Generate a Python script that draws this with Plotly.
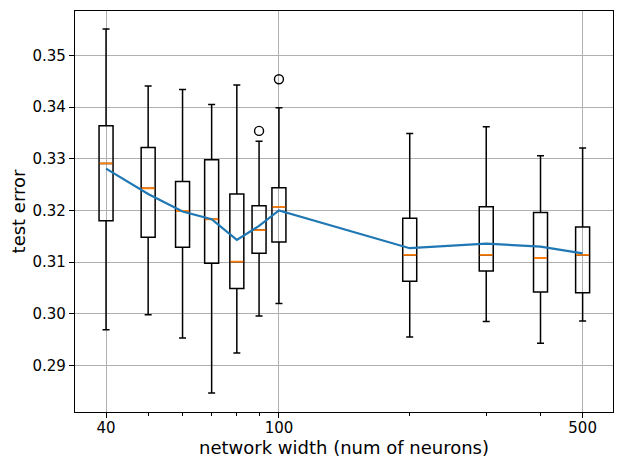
import numpy as np
import plotly.graph_objects as go

# test error per network width
widths = [40, 50, 60, 70, 80, 90, 100, 200, 300, 400, 500]
upper = [0.3551, 0.3441, 0.3434, 0.3405, 0.3443, 0.3334, 0.3399, 0.3349, 0.3362, 0.3306, 0.3321]
q3 = [0.3364, 0.3322, 0.3256, 0.3298, 0.3232, 0.3209, 0.3244, 0.3185, 0.3207, 0.3196, 0.3168]
median = [0.3291, 0.3243, 0.3199, 0.3183, 0.3101, 0.3162, 0.3207, 0.3114, 0.3114, 0.3108, 0.3114]
q1 = [0.3180, 0.3148, 0.3129, 0.3098, 0.3049, 0.3117, 0.3139, 0.3063, 0.3083, 0.3042, 0.3041]
lower = [0.2969, 0.2998, 0.2953, 0.2847, 0.2924, 0.2996, 0.3020, 0.2955, 0.2985, 0.2943, 0.2986]
mean = [0.3281, 0.3232, 0.3198, 0.3183, 0.3143, 0.3170, 0.3200, 0.3127, 0.3136, 0.3130, 0.3117]
outlier_x = [90, 100]
outlier_y = [0.3354, 0.3454]

major_ticks = [40, 100, 500]
minor_ticks = [50, 60, 70, 80, 90, 200, 300, 400]

FONT = 'DejaVu Sans'
BOX_W = 0.0322  # box width in decades

# plotly boxes don't size well on a log axis, so the x axis is log10(width)
# with the original widths as tick labels
pos = np.log10(widths)

fig = go.Figure()

fig.add_trace(go.Box(
    x=pos, q1=q1, median=median, q3=q3,
    lowerfence=lower, upperfence=upper,
    width=BOX_W, whiskerwidth=0.5, boxpoints=False,
    line=dict(color='black', width=1.5), fillcolor='rgba(0,0,0,0)',
    showlegend=False, hoverinfo='skip'))
# orange median drawn over the black one
fig.add_trace(go.Box(
    x=pos, q1=median, median=median, q3=median,
    lowerfence=median, upperfence=median,
    width=BOX_W * 0.93, whiskerwidth=0, boxpoints=False,
    line=dict(color='#ff7f0e', width=1.8), fillcolor='rgba(0,0,0,0)',
    showlegend=False, hoverinfo='skip'))

fig.add_trace(go.Scatter(
    x=np.log10(outlier_x), y=outlier_y, mode='markers',
    marker=dict(symbol='circle-open', size=9, color='black', line=dict(width=1.4)),
    showlegend=False))

fig.add_trace(go.Scatter(
    x=pos, y=mean, mode='lines',
    line=dict(color='#1f77b4', width=2.2), showlegend=False))

# the page puts the figure 8px in from the top-left corner
fig.update_layout(
    width=624, height=468,
    margin=dict(l=67, r=19, t=3, b=64),
    plot_bgcolor='white', paper_bgcolor='white',
    boxmode='overlay',
    font=dict(family=FONT, size=15, color='black'),
    xaxis=dict(
        range=[1.5306, 2.7689], automargin=False,
        tickvals=np.log10(major_ticks), ticktext=[str(t) for t in major_ticks],
        ticks='outside', ticklen=5, tickwidth=1.2, tickcolor='black',
        ticklabelstandoff=-3,
        showgrid=True, gridcolor='#b0b0b0', gridwidth=1.2,
        showline=True, linecolor='black', linewidth=1.2, mirror=True,
        zeroline=False,
        minor=dict(tickvals=np.log10(minor_ticks), ticks='outside', ticklen=3,
                   tickcolor='black', tickwidth=1, showgrid=False),
        title=dict(text='network width (num of neurons)', standoff=1),
    ),
    yaxis=dict(
        range=[0.2810, 0.3586], automargin=False,
        tickvals=[0.29, 0.30, 0.31, 0.32, 0.33, 0.34, 0.35], tickformat='.2f',
        ticks='outside', ticklen=5, tickwidth=1.2, tickcolor='black',
        showgrid=True, gridcolor='#b0b0b0', gridwidth=1.2,
        showline=True, linecolor='black', linewidth=1.2, mirror=True,
        zeroline=False,
        title=dict(text='test error', standoff=12),
    ),
)

fig.write_html('out.html')
